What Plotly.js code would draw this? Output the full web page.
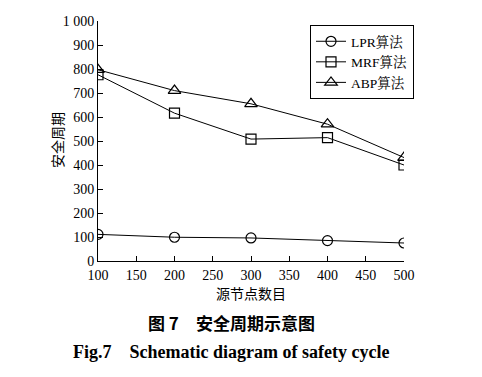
<!DOCTYPE html>
<html><head><meta charset="utf-8">
<script src="https://cdn.plot.ly/plotly-3.0.1.min.js"></script>
<style>body{margin:0;background:#fff}#c{width:482px;height:377px}</style>
</head><body><div id="c"></div>
<script>
const xVals = [100, 200, 300, 400, 500];
const lpr = [111, 99, 96, 85, 75];
const mrf = [776, 616, 508, 514, 400];
const abp = [797, 710, 655, 570, 431];
const names = ['LPR算法', 'MRF算法', 'ABP算法'];
const yTicks = [0,100,200,300,400,500,600,700,800,900,1000];
const yTickText = ['0','100','200','300','400','500','600','700','800','900','1 000'];
const xTicks = [100,150,200,250,300,350,400,450,500];

const serif = 'Liberation Serif, "Noto Serif CJK SC", "Noto Sans CJK SC", serif';
const cjk = '"Noto Sans CJK SC", sans-serif';
function tr(y, name, sym, size){
  return {x: xVals, y: y, name: name, type:'scatter', mode:'lines+markers',
    line:{color:'#000', width:1},
    marker:{symbol:sym, size:size, color:'#000', line:{color:'#000', width:1.2}}};
}
const data = [tr(lpr,names[0],'circle-open',10), tr(mrf,names[1],'square-open',10), tr(abp,names[2],'triangle-up-open',11)];
const L = 98, R = 404, T = 21, B = 261;
const px = v => (v - L) / (R - L);
const py = v => (B - v) / (B - T);
const layout = {
  width:482, height:377,
  margin:{l:L, r:482-R, t:T, b:377-B},
  paper_bgcolor:'#fff', plot_bgcolor:'#fff',
  showlegend:true,
  legend:{x:px(310), y:py(25), xanchor:'left', yanchor:'top', bordercolor:'#000', borderwidth:1,
    font:{family:serif, size:13.5, color:'#000'}, tracegroupgap:0, itemwidth:30, bgcolor:'#fff'},
  xaxis:{range:[100,500], tickvals:xTicks, ticks:'inside', ticklen:5, tickcolor:'#000',
    showline:true, linecolor:'#000', linewidth:1, showgrid:false, zeroline:false,
    tickfont:{family:serif, size:14, color:'#000'}, ticklabelstandoff:1,
    title:{text:'源节点数目', font:{family:cjk, size:14, color:'#000'}, standoff:3}},
  yaxis:{range:[0,1000], tickvals:yTicks, ticktext:yTickText, ticks:'inside', ticklen:5, tickcolor:'#000',
    showline:true, linecolor:'#000', linewidth:1, showgrid:false, zeroline:false,
    tickfont:{family:serif, size:14, color:'#000'}},
  annotations:[
    {xref:'paper', yref:'paper', x:px(57), y:py(140), text:'安全周期', textangle:-90, showarrow:false,
     font:{family:cjk, size:14, color:'#000'}, xanchor:'center', yanchor:'middle'},
    {xref:'paper', yref:'paper', x:px(231), y:py(322), text:'<b>图 7　安全周期示意图</b>', showarrow:false,
     font:{family:cjk, size:17, color:'#000'}, xanchor:'center', yanchor:'middle'},
    {xref:'paper', yref:'paper', x:px(231), y:py(352), text:'<b>Fig.7　Schematic diagram of safety cycle</b>', showarrow:false,
     font:{family:serif, size:18, color:'#000'}, xanchor:'center', yanchor:'middle'}
  ]
};
Plotly.newPlot('c', data, layout, {displayModeBar:false, staticPlot:true});
</script></body></html>
